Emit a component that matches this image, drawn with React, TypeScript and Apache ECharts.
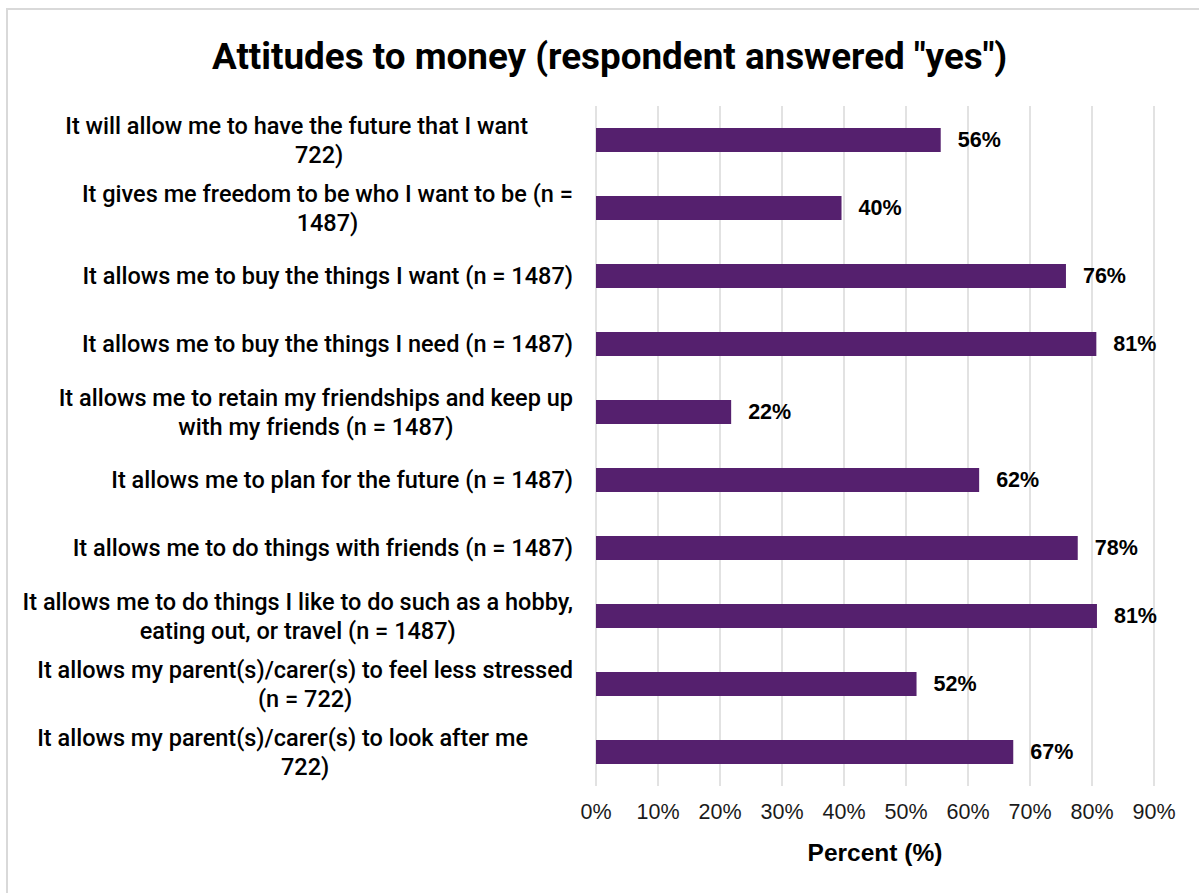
import React, { useEffect, useRef } from "react";
import * as echarts from "echarts";

const TITLE = 'Attitudes to money (respondent answered "yes")';
const AXIS_NAME = "Percent (%)";

// Each category label split into its visible lines (top to bottom order)
const categoryLines: string[][] = [
  ["It will allow me to have the future that I want", "722)"],
  ["It gives me freedom to be who I want to be (n =", "1487)"],
  ["It allows me to buy the things I want (n = 1487)"],
  ["It allows me to buy the things I need (n = 1487)"],
  ["It allows me to retain my friendships and keep up", "with my friends (n = 1487)"],
  ["It allows me to plan for the future (n = 1487)"],
  ["It allows me to do things with friends (n = 1487)"],
  ["It allows me to do things I like to do such as a hobby,", "eating out, or travel (n = 1487)"],
  ["It allows my parent(s)/carer(s) to feel less stressed", "(n = 722)"],
  ["It allows my parent(s)/carer(s) to look after me", "722)"],
];
// lines whose first row ends short of the others (hidden "(n =")
const shortFirstLine: boolean[] = [true, false, false, false, false, false, false, false, false, true];

const categories: string[] = categoryLines.map((l) => l.join(" "));
const values: number[] = [55.6, 39.6, 75.8, 80.7, 21.8, 61.8, 77.7, 80.8, 51.7, 67.3];

const xMin = 0;
const xMax = 90;
const xInterval = 10;

export default function App() {
  const ref = useRef<HTMLDivElement>(null);

  useEffect(() => {
    if (!ref.current) return;
    const chart = echarts.init(ref.current, null, { renderer: "svg" });
    const labelFont = "Roboto, 'Noto Sans', sans-serif";
    const arial = "'Liberation Sans', Arial, sans-serif";
    chart.setOption({
      animation: false,
      backgroundColor: "transparent",
      title: {
        text: TITLE,
        left: 207,
        top: 33,
        textStyle: {
          fontFamily: labelFont,
          fontWeight: "bold",
          fontSize: 36.8,
          color: "#000",
        },
      },
      grid: { left: 596, right: 45, top: 106, bottom: 107 },
      xAxis: {
        type: "value",
        min: xMin,
        max: xMax,
        interval: xInterval,
        name: AXIS_NAME,
        nameLocation: "middle",
        nameGap: 54,
        nameTextStyle: {
          fontFamily: arial,
          fontWeight: "bold",
          fontSize: 24.5,
          color: "#000",
        },
        axisLine: { show: false },
        axisTick: { show: false },
        axisLabel: {
          formatter: "{value}%",
          margin: 15,
          fontFamily: arial,
          fontSize: 21.5,
          color: "#1a1a1a",
        },
        splitLine: { show: true, lineStyle: { color: "#d9d9d9", width: 1.5 } },
      },
      yAxis: {
        type: "category",
        inverse: true,
        data: categories,
        axisLine: { show: false },
        axisTick: { show: false },
        axisLabel: {
          align: "right",
          margin: 23,
          interval: 0,
          formatter: (_v: string, idx: number) => {
            const lines = categoryLines[idx];
            return lines
              .map((ln, i) => (i === 0 && shortFirstLine[idx] ? `{s|${ln}}` : `{c|${ln}}`))
              .join("\n");
          },
          rich: {
            c: {
              align: "center",
              fontFamily: labelFont,
              fontWeight: 500,
              fontSize: 23.5,
              lineHeight: 29,
              color: "#000",
            },
            s: {
              align: "left",
              padding: [0, 45, 0, 0],
              fontFamily: labelFont,
              fontWeight: 500,
              fontSize: 23.5,
              lineHeight: 29,
              color: "#000",
            },
          },
        },
      },
      series: [
        {
          type: "bar",
          data: values,
          barWidth: 24,
          itemStyle: { color: "#55206e" },
          label: {
            show: true,
            position: "right",
            distance: 17,
            formatter: (p: any) => `${Math.round(p.value)}%`,
            fontFamily: arial,
            fontWeight: "bold",
            fontSize: 21.5,
            color: "#000",
          },
        },
      ],
    });
    return () => chart.dispose();
  }, []);

  return (
    <div style={{ position: "fixed", left: 0, top: 0, width: 1199, height: 893, overflow: "hidden", background: "#fff" }}>
      <div
        style={{
          position: "absolute",
          left: 6,
          top: 8,
          width: 1300,
          height: 1000,
          border: "2px solid #d9d9d9",
          boxSizing: "border-box",
        }}
      />
      <div ref={ref} style={{ position: "absolute", left: 0, top: 0, width: 1199, height: 893 }} />
    </div>
  );
}
